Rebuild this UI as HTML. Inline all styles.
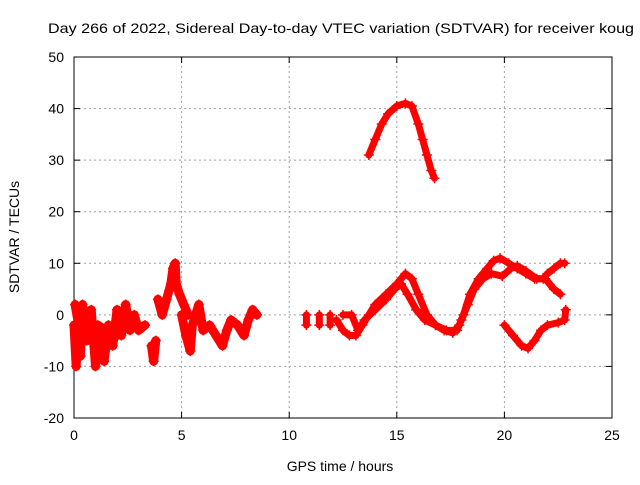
<!DOCTYPE html>
<html><head><meta charset="utf-8"><style>
body{margin:0;background:#fff;font-family:"Liberation Sans",sans-serif}
svg text{font-family:"Liberation Sans",sans-serif;font-size:14px;fill:#000}
</style></head><body>
<svg id="chart" width="640" height="480" xmlns="http://www.w3.org/2000/svg">
<rect width="640" height="480" fill="#fff"/>
<text x="48" y="33" textLength="586" lengthAdjust="spacingAndGlyphs">Day 266 of 2022, Sidereal Day-to-day VTEC variation (SDTVAR) for receiver koug</text>
<g id="grid"></g><g id="axes"></g><g id="marks"></g>
<text x="340" y="471" text-anchor="middle">GPS time / hours</text>
<text transform="translate(19,237) rotate(-90)" text-anchor="middle">SDTVAR / TECUs</text>
</svg>
<script>
const xTicks=[0,5,10,15,20,25];
const yTicks=[-20,-10,0,10,20,30,40,50];
const segA=[[0,-2],[0.1,-10],[0.2,0],[0.3,-8],[0.4,2],[0.6,-5],[0.8,1],[1.0,-10],[1.2,-3],[1.4,-9],[1.6,-2],[1.8,-6],[2.0,1],[2.2,-4],[2.4,2],[2.6,-3],[2.8,0],[3.0,-3],[3.3,-2]];
const segA2=[[0.05,2],[0.3,-4],[0.5,0],[0.8,-4],[1.1,-2],[1.5,-3],[2.0,-4],[2.5,-2],[3.0,-2]];
const segB=[[3.6,-6],[3.7,-9],[3.8,-5]];
const segC=[[3.9,3],[4.1,0],[4.3,3],[4.5,6],[4.6,9],[4.7,10],[4.75,6],[4.9,4],[5.1,2],[5.3,0]];
const segD=[[5.0,0],[5.2,-4],[5.4,-7],[5.5,-2],[5.8,2],[6.0,-3],[6.3,-2],[6.6,-4],[6.9,-6],[7.1,-3],[7.3,-1],[7.6,-2],[7.9,-4],[8.1,-1],[8.3,1],[8.5,0]];
const segE1=[[10.8,0],[10.8,-2]];
const segE2=[[11.4,0],[11.4,-2]];
const segE3=[[11.9,0],[11.9,-2]];
const segF=[[12.2,-1],[12.5,-3],[12.8,-4],[13.1,-4],[13.4,-2],[13.7,0],[14.0,2],[14.5,4],[15.0,6],[15.4,8],[15.7,7],[16.0,4],[16.4,0],[16.8,-2],[17.2,-3],[17.6,-3.5],[17.9,-2]];
const segF2=[[12.5,0],[12.9,0],[13.2,-3],[13.5,-1],[14.0,1],[14.5,3],[14.9,5],[15.2,6],[15.5,4],[15.9,1],[16.3,-1],[16.8,-2],[17.3,-3],[17.7,-3]];
const segG=[[17.8,-3],[18.1,0],[18.4,4],[18.8,7],[19.2,9],[19.5,10.5],[19.8,11],[20.2,10],[20.6,9],[21.0,8],[21.4,7],[21.8,7],[22.0,8],[22.3,9],[22.6,10],[22.8,10]];
const segG2=[[18.0,-1],[18.3,2],[18.6,5],[19.0,7],[19.4,8],[19.9,7.5],[20.3,9],[20.6,9.5],[21.0,8.5],[21.5,7],[21.9,7],[22.3,5],[22.6,4]];
const segH=[[20.0,-2],[20.4,-4],[20.8,-6],[21.1,-6.5],[21.4,-5],[21.7,-3],[22.0,-2],[22.5,-1.5],[22.8,-1],[22.85,1]];
const segI=[[13.7,31],[14.0,34],[14.3,37],[14.6,39],[15.0,40.5],[15.4,41],[15.7,40.5],[16.0,37],[16.2,34],[16.4,31],[16.6,28],[16.75,26.5]];
const series=[segA,segA2,segB,segC,segD,segE1,segE2,segE3,segF,segF2,segG,segG2,segH,segI];
const X0=74,X1=612,Y0=418,Y1=57,xmin=0,xmax=25,ymin=-20,ymax=50;
const xs=h=>X0+(h-xmin)/(xmax-xmin)*(X1-X0);
const ys=v=>Y0-(v-ymin)/(ymax-ymin)*(Y0-Y1);
const NS='http://www.w3.org/2000/svg';
function mk(t,a,p){const e=document.createElementNS(NS,t);for(const k in a)e.setAttribute(k,a[k]);p.appendChild(e);return e;}
const grid=document.getElementById('grid'),axes=document.getElementById('axes'),marks=document.getElementById('marks');
xTicks.forEach(t=>{const x=xs(t);
 if(t>xmin&&t<xmax){const g=mk('line',{x1:x,x2:x,y1:Y0,y2:Y1,stroke:'#a0a0a0','stroke-dasharray':'2,3'},grid);}
 const l=mk('line',{x1:x,x2:x,y1:Y0,y2:Y0-6,stroke:'#000'},axes);
 const l2=mk('line',{x1:x,x2:x,y1:Y1,y2:Y1+6,stroke:'#000'},axes);
 const tx=mk('text',{x:x,y:Y0+22,'text-anchor':'middle'},axes);tx.textContent=t;});
yTicks.forEach(t=>{const y=ys(t);
 if(t>ymin&&t<ymax){const g=mk('line',{x1:X0,x2:X1,y1:y,y2:y,stroke:'#a0a0a0','stroke-dasharray':'2,3'},grid);}
 const l=mk('line',{x1:X0,x2:X0+6,y1:y,y2:y,stroke:'#000'},axes);
 const l2=mk('line',{x1:X1,x2:X1-6,y1:y,y2:y,stroke:'#000'},axes);
 const tx=mk('text',{x:X0-10,y:y+5,'text-anchor':'end'},axes);tx.textContent=t;});
const fr=mk('rect',{x:X0,y:Y1,width:X1-X0,height:Y0-Y1,fill:'none',stroke:'#000'},axes);


series.forEach((s,i)=>{
 const w=(i<5)?9:7;
 const pl=mk('polyline',{points:s.map(p=>xs(p[0])+','+ys(p[1])).join(' '),fill:'none',stroke:'#f00','stroke-width':w,'stroke-linejoin':'round','stroke-linecap':'round'},marks);
 
 
 s.forEach(p=>{const x=xs(p[0]),y=ys(p[1]);
  const m=mk('path',{d:`M${x-5},${y}H${x+5}M${x},${y-5}V${y+5}`,stroke:'#f00','stroke-width':1.5},marks);
  
  });
});
</script>
</body></html>
